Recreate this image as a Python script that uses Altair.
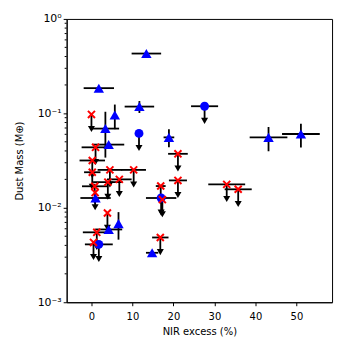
import altair as alt
import pandas as pd

# Blue triangles (detections)
tri_x    = [13.4, 1.8, 11.7, 5.7, 3.4, 4.2, 18.9, 43.2, 51.1, 1.0, 6.6, 4.2, 14.8]
tri_xerr = [3.6, 3.7, 3.6, 0.0, 3.35, 3.8, 1.3, 4.6, 4.6, 3.7, 0.0, 3.3, 1.5]
tri_y    = [0.43, 0.185, 0.118, 0.096, 0.069, 0.0467, 0.0557, 0.0557, 0.0605, 0.0127, 0.0068, 0.0059, 0.00334]
tri_yerr = [0.0, 0.0, 0.017, 0.028, 0.035, 0.0, 0.012, 0.016, 0.017, 0.0, 0.0022, 0.0, 0.0]

# Blue circles (upper limits)
cir_x    = [27.6, 11.6, 17.0, 1.8]
cir_xerr = [3.3, 0.0, 3.7, 3.4]
cir_y    = [0.119, 0.0614, 0.0127, 0.0041]

# Red crosses (upper limits)
crs_x    = [0.0, 1.0, 0.2, 0.2, 4.5, 10.3, 4.0, 6.8, 0.8, 0.9, 3.9, 1.3, 0.5,
            16.9, 17.3, 21.1, 21.1, 16.8, 33.0, 35.8]
crs_xerr = [0.0, 3.4, 3.1, 2.0, 3.0, 3.0, 3.6, 3.0, 3.1, 0.0, 0.0, 3.4, 0.0,
            1.2, 0.0, 2.4, 2.2, 2.0, 4.5, 3.3]
crs_y    = [0.0975, 0.0437, 0.0317, 0.0238, 0.0252, 0.0252, 0.0187, 0.020, 0.0169, 0.0145,
            0.0088, 0.0055, 0.0043, 0.017, 0.0122, 0.0373, 0.0195, 0.00485, 0.0177, 0.0157]

x_ticks = [0, 10, 20, 30, 40, 50]
y_ticks = [0.001, 0.01, 0.1, 1]

UL_FRAC = 0.72

tri = pd.DataFrame({"x": tri_x, "xerr": tri_xerr, "y": tri_y, "yerr": tri_yerr})
cir = pd.DataFrame({"x": cir_x, "xerr": cir_xerr, "y": cir_y})
crs = pd.DataFrame({"x": crs_x, "xerr": crs_xerr, "y": crs_y})

hx = pd.concat([tri[["x", "xerr", "y"]], cir[["x", "xerr", "y"]], crs[["x", "xerr", "y"]]])
hx = hx[hx.xerr > 0].copy()
hx["x0"] = hx.x - hx.xerr
hx["x1"] = hx.x + hx.xerr

vy = tri[tri.yerr > 0].copy()
vy["y0"] = vy.y - vy.yerr
vy["y1"] = vy.y + vy.yerr

ul = pd.concat([cir[["x", "y"]], crs[["x", "y"]]]).copy()
ul["y0"] = ul.y * UL_FRAC
ul["yh"] = ul.y * 0.70

xs = alt.Scale(domain=[-6.05, 58.7], nice=False, zero=False)
ys = alt.Scale(type="log", domain=[0.001, 1], nice=False)

xax = alt.Axis(values=x_ticks, title="NIR excess (%)", grid=False,
               tickSize=3.5, labelPadding=6, titlePadding=5)
yax = alt.Axis(values=y_ticks, grid=False, tickSize=3.5, labelFontSize=11,
               title="Dust Mass (M\u2295)", titlePadding=13,
               labelExpr="datum.value >= 1 ? '10\u2070' : datum.value >= 0.1 ? '10\u207b\u00b9' : datum.value >= 0.01 ? '10\u207b\u00b2' : '10\u207b\u00b3'")

minor_vals = [m * d for d in [0.001, 0.01, 0.1] for m in range(2, 10)]
minor = pd.DataFrame({"y": minor_vals})

minor_layer = alt.Chart(minor).mark_rule(color="black", strokeWidth=1).encode(
    x=alt.value(-2), x2=alt.value(0),
    y=alt.Y("y:Q", scale=ys),
)

hrule = alt.Chart(hx).mark_rule(color="black", strokeWidth=1.8).encode(
    x=alt.X("x0:Q", scale=xs, axis=xax), x2="x1:Q",
    y=alt.Y("y:Q", scale=ys, axis=yax),
)
vrule = alt.Chart(vy).mark_rule(color="black", strokeWidth=1.8).encode(
    x=alt.X("x:Q", scale=xs), y=alt.Y("y0:Q", scale=ys), y2="y1:Q",
)
ulrule = alt.Chart(ul).mark_rule(color="black", strokeWidth=1.8).encode(
    x=alt.X("x:Q", scale=xs), y=alt.Y("y:Q", scale=ys), y2="y0:Q",
)
ulhead = alt.Chart(ul).mark_point(shape="triangle-down", filled=True, color="black",
                                  size=50, opacity=1).encode(
    x=alt.X("x:Q", scale=xs), y=alt.Y("yh:Q", scale=ys),
)
circles = alt.Chart(cir).mark_point(shape="circle", filled=True, color="#0000ff",
                                    size=80, opacity=1).encode(
    x=alt.X("x:Q", scale=xs), y=alt.Y("y:Q", scale=ys),
)
triangles = alt.Chart(tri).mark_point(shape="triangle-up", filled=True, color="#0000ff",
                                      size=110, opacity=1).encode(
    x=alt.X("x:Q", scale=xs), y=alt.Y("y:Q", scale=ys),
)
crosses = alt.Chart(crs).mark_point(shape="M-1,-1L1,1M1,-1L-1,1", filled=False,
                                    color="#ff0000", strokeWidth=2, size=50,
                                    opacity=1).encode(
    x=alt.X("x:Q", scale=xs), y=alt.Y("y:Q", scale=ys),
)

chart = alt.layer(hrule, minor_layer, vrule, ulrule, ulhead, circles, triangles, crosses).properties(
    width=267, height=285,
    autosize=alt.AutoSizeParams(type="none"),
    padding={"left": 59, "top": 10, "right": 10, "bottom": 40},
).configure_view(stroke="black", strokeWidth=1).configure_axis(
    domainColor="black", tickColor="black", labelColor="black", titleColor="black",
    labelFont="DejaVu Sans", titleFont="DejaVu Sans", labelFontSize=10, titleFontSize=10,
    titleFontWeight="normal", domainWidth=1, tickWidth=1,
)

chart.save("out.html", embed_options={"renderer": "svg", "actions": False})
